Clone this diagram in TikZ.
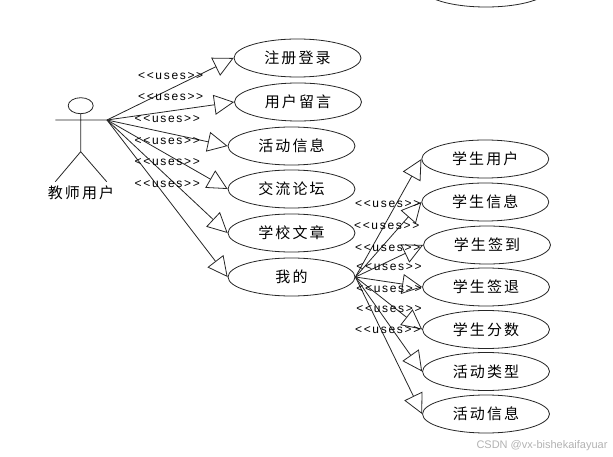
\documentclass[tikz,border=0pt]{standalone}
\usepackage{fontspec}
\usetikzlibrary{shapes.geometric, arrows.meta}
\newfontfamily\cjk[LetterSpace=14]{Noto Sans CJK SC}
\newfontfamily\usesfont[LetterSpace=14]{Liberation Sans}
\newfontfamily\markfont{Liberation Sans}
\begin{document}
\begin{tikzpicture}[x=1pt, y=-1pt]
\tikzstyle{usecase}=[ellipse, draw=black!85, line width=0.8pt, minimum width=127pt, minimum height=38pt, inner sep=0pt, font=\cjk\fontsize{15}{16}\selectfont]
\tikzstyle{uses}=[inner sep=0pt, font=\usesfont\fontsize{12}{13}\selectfont]
\tikzstyle{actorline}=[draw=black!85, line width=0.8pt]
\tikzstyle{connect}=[-{Triangle[open, length=20pt, width=20pt]}, draw=black!85, line width=0.8pt]
\useasboundingbox (0,0) rectangle (613,457);
\clip (0,0) rectangle (613,457);
% 1. Actor
%%%%%%%%%%
\node[ellipse, actorline, minimum width=25pt, minimum height=16pt, inner sep=0pt] (head) at (80.7,105.7) {};
\coordinate (armL) at (55.3,120);
\coordinate (hand) at (107,120);
\coordinate (hip) at (80.7,151.7);
\coordinate (footL) at (55.3,181.7);
\coordinate (footR) at (106.7,181.7);
\node[inner sep=0pt, font=\cjk\fontsize{15}{16}\selectfont] (teacher) at (81,193) {教师用户};
\draw[actorline] (head.south) -- (hip)
                 (armL) -- (hand)
                 (footL) -- (hip) -- (footR);
% 2. Nodes
%%%%%%%%%%
\node[usecase] (register) at (297.5,58) {注册登录};
\node[usecase] (message) at (298,102) {用户留言};
\node[usecase] (activity) at (291.5,146) {活动信息};
\node[usecase] (forum) at (291.5,189) {交流论坛};
\node[usecase] (article) at (291.5,233) {学校文章};
\node[usecase] (mine) at (291.5,277) {我的};

\node[usecase] (hidden) at (486,-12) {};
\node[usecase] (student) at (485.3,159) {学生用户};
\node[usecase] (info) at (485.3,202) {学生信息};
\node[usecase] (signin) at (487,245) {学生签到};
\node[usecase] (signout) at (486,287) {学生签退};
\node[usecase] (score) at (486,329.5) {学生分数};
\node[usecase] (kind) at (486,371.5) {活动类型};
\node[usecase] (activityB) at (486,414) {活动信息};
% 3. Arrows
%%%%%%%%%%%
\path (hand) edge [connect] (register.west)
      (hand) edge [connect] (message.west)
      (hand) edge [connect] (activity.west)
      (hand) edge [connect] (forum.west)
      (hand) edge [connect] (article.west)
      (hand) edge [connect] (mine.west);
\path (mine.east) edge [connect] (student.west)
      (mine.east) edge [connect] (info.west)
      (mine.east) edge [connect] (signin.west)
      (mine.east) edge [connect] (signout.west)
      (mine.east) edge [connect] (score.west)
      (mine.east) edge [connect] (kind.west)
      (mine.east) edge [connect] (activityB.west);
% 4. Labels
%%%%%%%%%%%
\node[uses] (usesA) at (170.7,75.7) {<{}<uses>{}>};
\node[uses] (usesB) at (170.7,97.3) {<{}<uses>{}>};
\node[uses] (usesC) at (167.3,119.3) {<{}<uses>{}>};
\node[uses] (usesD) at (167.3,140.7) {<{}<uses>{}>};
\node[uses] (usesE) at (167.3,162.3) {<{}<uses>{}>};
\node[uses] (usesF) at (167.3,184) {<{}<uses>{}>};
\node[uses] (usesG) at (387.7,203.7) {<{}<uses>{}>};
\node[uses] (usesH) at (386.7,226.3) {<{}<uses>{}>};
\node[uses] (usesI) at (387.7,248.3) {<{}<uses>{}>};
\node[uses] (usesJ) at (389,267.3) {<{}<uses>{}>};
\node[uses] (usesK) at (389,289.3) {<{}<uses>{}>};
\node[uses] (usesL) at (389,309.3) {<{}<uses>{}>};
\node[uses] (usesM) at (387.7,330) {<{}<uses>{}>};
\node[inner sep=0pt, text=black!30, font=\markfont\fontsize{11}{12}\selectfont] (mark) at (542,446) {CSDN @vx-bishekaifayuar};
\end{tikzpicture}
\end{document}
